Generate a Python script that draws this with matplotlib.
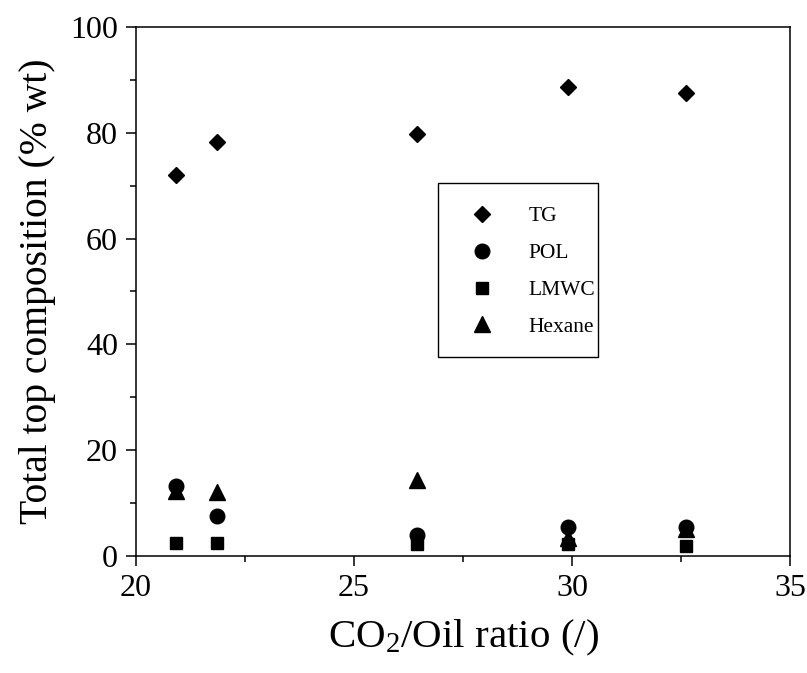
import matplotlib
matplotlib.use("Agg")
import matplotlib.pyplot as plt
from matplotlib.ticker import MultipleLocator
from matplotlib.patches import Rectangle

plt.rcParams['font.family'] = ['Liberation Serif', 'DejaVu Serif']
plt.rcParams['mathtext.fontset'] = 'custom'
plt.rcParams['mathtext.rm'] = 'Liberation Serif'
plt.rcParams['mathtext.it'] = 'Liberation Serif:italic'

ratio = [20.92, 21.85, 26.44, 29.9, 32.62]
tg = [72.0, 78.2, 79.7, 88.7, 87.5]
pol = [13.3, 7.6, 4.0, 5.5, 5.5]
lmwc = [2.4, 2.4, 2.2, 2.2, 1.9]
hexane = [12.3, 12.0, 14.4, 3.3, 5.0]

fig = plt.figure(figsize=(8.07, 6.73), dpi=100)
ax = fig.add_axes([0.1685, 0.174, 0.8105, 0.786])

ax.plot(ratio, tg, linestyle='none', marker='D', ms=8.6, color='black', label='TG')
ax.plot(ratio, pol, linestyle='none', marker='o', ms=10.5, color='black', label='POL')
ax.plot(ratio, lmwc, linestyle='none', marker='s', ms=9.0, color='black', label='LMWC')
ax.plot(ratio, hexane, linestyle='none', marker='^', ms=11.5, color='black', label='Hexane')

ax.set_xlim(20, 35)
ax.set_ylim(0, 100)
ax.xaxis.set_major_locator(MultipleLocator(5))
ax.xaxis.set_minor_locator(MultipleLocator(2.5))
ax.yaxis.set_major_locator(MultipleLocator(20))
ax.yaxis.set_minor_locator(MultipleLocator(10))
ax.tick_params(which='both', direction='out', top=False, right=False, width=1.1, labelsize=23)
ax.tick_params(which='major', length=7.5, pad=5.5)
ax.tick_params(which='minor', length=4)
for s in ax.spines.values():
    s.set_linewidth(1.1)

ax.set_xlabel('CO$_2$/Oil ratio (/)', fontsize=29.5, labelpad=11)
ax.set_ylabel('Total top composition (% wt)', fontsize=28.5, labelpad=10)

leg = ax.legend(loc='upper left', bbox_to_anchor=(0.4625, 0.7015), borderaxespad=0,
                fontsize=15.5, frameon=False,
                labelspacing=0.78, handletextpad=1.2, borderpad=1.0, handlelength=2.0)

# legend box outline (axes coordinates)
ax.add_patch(Rectangle((0.462, 0.376), 0.245, 0.329, transform=ax.transAxes,
                       fill=False, edgecolor='black', linewidth=1.0, zorder=5))

fig.savefig('out.png', dpi=100)
